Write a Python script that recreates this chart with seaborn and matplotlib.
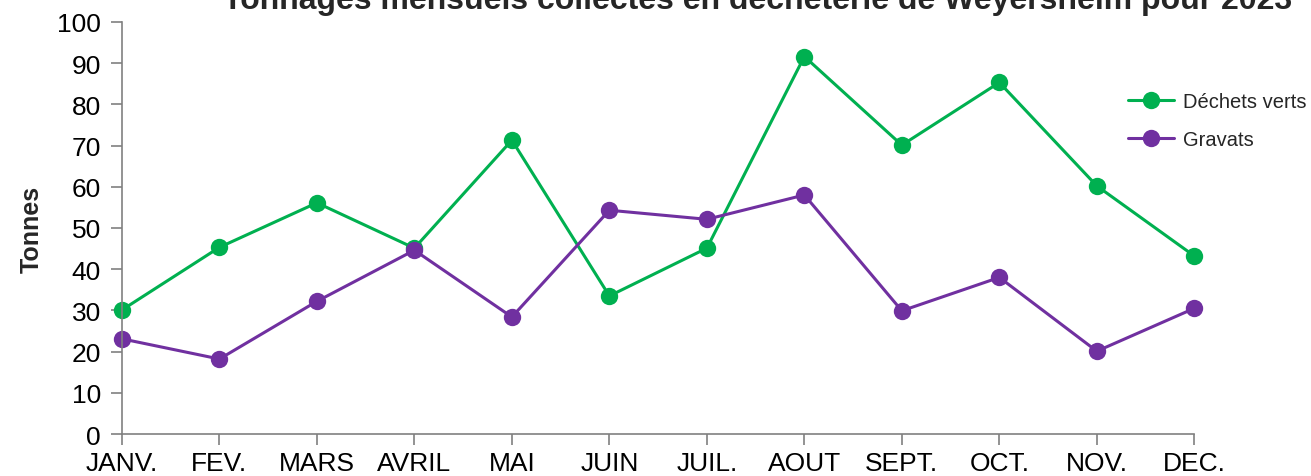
import pandas as pd
import matplotlib.pyplot as plt
import seaborn as sns

months = ['JANV.', 'FEV.', 'MARS', 'AVRIL', 'MAI', 'JUIN', 'JUIL.', 'AOUT', 'SEPT.', 'OCT.', 'NOV.', 'DEC.']
dechets_verts = [30.1, 45.3, 56.1, 45.1, 71.3, 33.5, 45.1, 91.6, 70.1, 85.3, 60.2, 43.2]
gravats = [23.1, 18.2, 32.2, 44.6, 28.4, 54.3, 52.1, 58.0, 29.9, 38.0, 20.1, 30.5]
series = ['Déchets verts', 'Gravats']
colors = ['#00B050', '#7030A0']

df = pd.DataFrame({
    'pos': list(range(len(months))) * 2,
    'tonnes': dechets_verts + gravats,
    'serie': [series[0]] * len(months) + [series[1]] * len(months),
})

sns.set_style('white')
plt.rcParams['font.family'] = ['Liberation Sans', 'DejaVu Sans']

fig = plt.figure(figsize=(13.11, 4.77), dpi=100)
ax = fig.add_axes([0.093, 0.088, 0.818, 0.864])

sns.lineplot(data=df, x='pos', y='tonnes', hue='serie', palette=colors,
             marker='o', markersize=12.5, markeredgewidth=0, linewidth=2.2,
             sort=False, ax=ax, clip_on=False)

ax.set_xlim(0, len(months) - 1)
ax.set_ylim(0, 100)
ax.set_yticks(range(0, 101, 10))
ax.set_xticks(range(len(months)))
ax.set_xticklabels(months)
ax.tick_params(axis='both', labelsize=19, colors='#808080', labelcolor='black',
               length=8, width=1.2, direction='out', left=True, bottom=True)
ax.tick_params(axis='y', pad=7)
ax.tick_params(axis='x', pad=4)
for s in ['top', 'right']:
    ax.spines[s].set_visible(False)
for s in ['left', 'bottom']:
    ax.spines[s].set_color('#808080')
    ax.spines[s].set_linewidth(1.2)

ax.set_xlabel('')
ax.set_ylabel('Tonnes', fontsize=18, fontweight='bold', labelpad=10)

leg = ax.legend(loc='upper left', bbox_to_anchor=(0.938, 0.83), frameon=False,
                fontsize=14.5, handlelength=2.3, labelspacing=0.95,
                borderaxespad=0, handletextpad=0.45, borderpad=0)

fig.text(0.578, 1 - 9 / 477, 'Tonnages mensuels collectés en déchèterie de Weyersheim pour 2023',
         ha='center', va='baseline', fontsize=23, fontweight='bold')

fig.savefig('out.png', dpi=100)
